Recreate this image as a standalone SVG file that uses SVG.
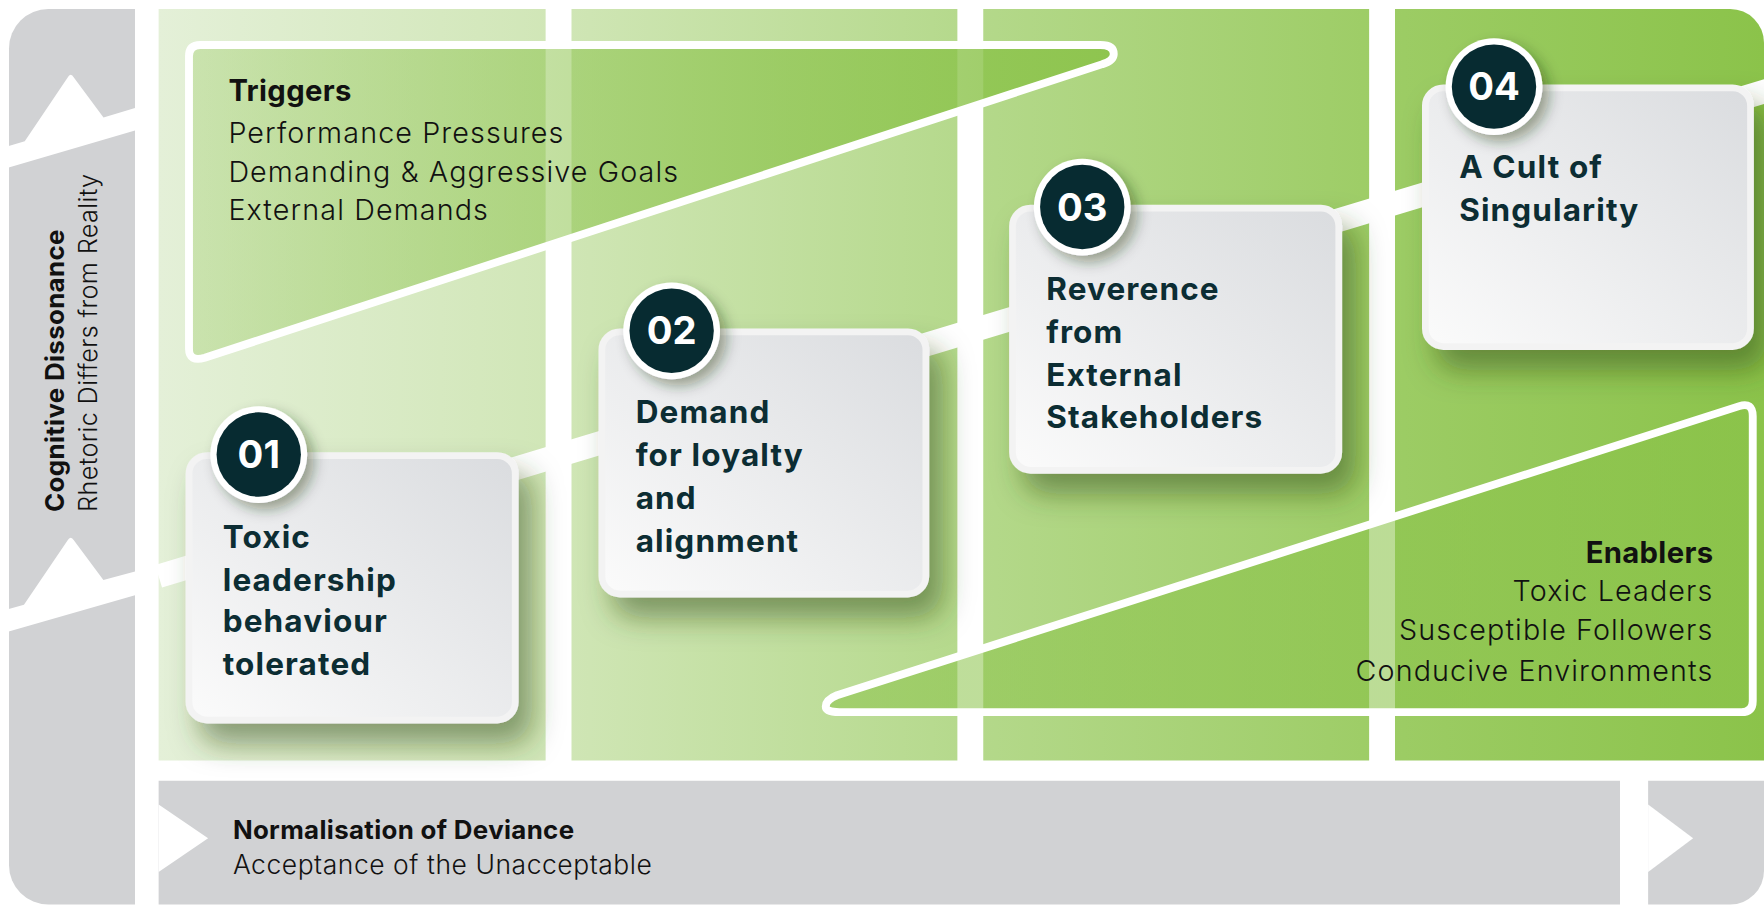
<svg xmlns="http://www.w3.org/2000/svg" width="1764" height="905" viewBox="0 0 1764 905">
<defs>
<linearGradient id="bg" gradientUnits="userSpaceOnUse" x1="141" y1="0" x2="1568" y2="0">
<stop offset="0" stop-color="#e4f0d8"/>
<stop offset="0.25" stop-color="#d0e6b6"/>
<stop offset="0.5" stop-color="#b5d98c"/>
<stop offset="0.75" stop-color="#9ecd67"/>
<stop offset="1" stop-color="#8bc34a"/>
</linearGradient>
<linearGradient id="trig" gradientUnits="userSpaceOnUse" x1="168" y1="0" x2="990" y2="0">
<stop offset="0" stop-color="#8bc34a" stop-opacity="0.28"/>
<stop offset="1" stop-color="#8bc34a" stop-opacity="0.9"/>
</linearGradient>
<linearGradient id="enab" gradientUnits="userSpaceOnUse" x1="735" y1="0" x2="1558" y2="0">
<stop offset="0" stop-color="#8bc34a" stop-opacity="0.55"/>
<stop offset="1" stop-color="#8bc34a" stop-opacity="0.6"/>
</linearGradient>
<linearGradient id="card" x1="1" y1="0" x2="0" y2="1">
<stop offset="0" stop-color="#dadcdf"/>
<stop offset="1" stop-color="#fbfbfb"/>
</linearGradient>
<filter id="sh" x="-20%" y="-20%" width="160%" height="170%">
<feDropShadow dx="12" dy="18" stdDeviation="13" flood-color="#2e4a0e" flood-opacity="0.5"/>
</filter>
<filter id="csh" x="-30%" y="-30%" width="180%" height="180%">
<feDropShadow dx="6" dy="6" stdDeviation="6" flood-color="#1f3308" flood-opacity="0.4"/>
</filter>
</defs>
<style>
.gray{fill:#d1d2d4}
.wht{fill:#ffffff}
.card{fill:url(#card);stroke:#f3f3f3;stroke-width:6}
.ring{fill:#ffffff}
.dot{fill:#072b31}
.num{font-family:Inter,"Liberation Sans",sans-serif;font-weight:700;font-size:34px;fill:#ffffff;text-anchor:middle}
.ct{font-family:Inter,"Liberation Sans",sans-serif;font-weight:700;font-size:28px;letter-spacing:1px;fill:#0c2d33}
.hb{font-family:Inter,"Liberation Sans",sans-serif;font-weight:700;font-size:26px;letter-spacing:0.3px;fill:#111111}
.hr{font-family:Inter,"Liberation Sans",sans-serif;font-weight:300;font-size:25.5px;letter-spacing:1px;fill:#111111}
.sb{font-family:Inter,"Liberation Sans",sans-serif;font-weight:700;font-size:23px;letter-spacing:0.3px;fill:#111111}
.sr{font-family:Inter,"Liberation Sans",sans-serif;font-weight:300;font-size:23.5px;letter-spacing:0.5px;fill:#111111}
.vr{font-family:Inter,"Liberation Sans",sans-serif;font-weight:300;font-size:22.5px;letter-spacing:0.3px;fill:#111111}
</style>
<rect width="1764" height="905" fill="#ffffff"/>
<g transform="scale(1.125)">
<g id="background">
<rect x="141" y="8" width="344" height="668" fill="url(#bg)"/>
<rect x="508" y="8" width="343" height="668" fill="url(#bg)"/>
<rect x="874" y="8" width="343" height="668" fill="url(#bg)"/>
<path d="M1240,8 H1538 A30,30 0 0 1 1568,38 V676 H1240 Z" fill="url(#bg)"/>
</g>
<g id="left-panel">
<path class="gray" d="M120,8 H43 A35,35 0 0 0 8,43 V769 A35,35 0 0 0 43,804 H120 Z"/>
<path class="wht" d="M7,130 L22,125.5 L60,69 Q62.8,64 65.8,69 L92,104.4 L120,96 L120,116 L7,149 Z"/>
<path class="wht" d="M7,541.6 L21.3,537.5 L60,480.4 Q62.8,475.4 65.8,480.4 L91.9,515.6 L120,508 L120,529 L7,561.5 Z"/>
<text class="sb" transform="translate(57,455) rotate(-90)">Cognitive Dissonance</text>
<text class="vr" transform="translate(86,455) rotate(-90)">Rhetoric Differs from Reality</text>
</g>
<g id="bottom-bar">
<path class="gray" d="M141,694 H1440 V804 H141 Z"/>
<path class="gray" d="M1465,694 H1568 V774 A30,30 0 0 1 1538,804 H1465 Z"/>
<polygon class="wht" points="141,715 185,745 141,775"/>
<polygon class="wht" points="1465,715 1505,745 1465,775"/>
<text class="sb" x="207" y="746">Normalisation of Deviance</text>
<text class="sr" x="207" y="777">Acceptance of the Unacceptable</text>
</g>
<g id="triggers">
<path d="M178,40 H978 Q990,40 990,48 Q990,54 980,57 L182,318 Q168,322 168,310 V50 Q168,40 178,40 Z" fill="url(#trig)" stroke="#ffffff" stroke-width="7" stroke-linejoin="round"/>
<text class="hb" x="203" y="90">Triggers</text>
<text class="hr" x="203" y="127">Performance Pressures</text>
<text class="hr" x="203" y="161.5">Demanding &amp; Aggressive Goals</text>
<text class="hr" x="203" y="195.5">External Demands</text>
</g>
<g id="enablers">
<path d="M746,633 H1548 Q1558,633 1558,623 V370 Q1558,357 1546,361 L744,618 Q734,622 734,628 Q734,633 746,633 Z" fill="url(#enab)" stroke="#ffffff" stroke-width="7" stroke-linejoin="round"/>
<text class="hb" x="1523" y="500" text-anchor="end">Enablers</text>
<text class="hr" x="1523" y="534" text-anchor="end">Toxic Leaders</text>
<text class="hr" x="1523" y="569" text-anchor="end">Susceptible Followers</text>
<text class="hr" x="1523" y="605" text-anchor="end">Conducive Environments</text>
</g>
<g id="connectors">
<line x1="141" y1="512.2" x2="1580" y2="77.9" stroke="#ffffff" stroke-width="21"/>
</g>
<g id="node-01">
<rect class="card" x="168" y="405" width="290" height="235" rx="16" filter="url(#sh)"/>
<circle class="ring" cx="230" cy="404" r="43" filter="url(#csh)"/>
<circle class="dot" cx="230" cy="404" r="37.5"/>
<text class="num" x="230" y="416">01</text>
<text class="ct" x="198" y="487">Toxic</text>
<text class="ct" x="198" y="525">leadership</text>
<text class="ct" x="198" y="562">behaviour</text>
<text class="ct" x="198" y="600">tolerated</text>
</g>
<g id="node-02">
<rect class="card" x="535" y="295" width="288" height="233" rx="16" filter="url(#sh)"/>
<circle class="ring" cx="597" cy="294" r="43" filter="url(#csh)"/>
<circle class="dot" cx="597" cy="294" r="37.5"/>
<text class="num" x="597" y="306">02</text>
<text class="ct" x="565" y="376">Demand</text>
<text class="ct" x="565" y="414">for loyalty</text>
<text class="ct" x="565" y="452">and</text>
<text class="ct" x="565" y="491">alignment</text>
</g>
<g id="node-03">
<rect class="card" x="900" y="185" width="290" height="233" rx="16" filter="url(#sh)"/>
<circle class="ring" cx="962" cy="184" r="43" filter="url(#csh)"/>
<circle class="dot" cx="962" cy="184" r="37.5"/>
<text class="num" x="962" y="196">03</text>
<text class="ct" x="930" y="267">Reverence</text>
<text class="ct" x="930" y="305">from</text>
<text class="ct" x="930" y="343">External</text>
<text class="ct" x="930" y="380">Stakeholders</text>
</g>
<g id="node-04">
<rect class="card" x="1267" y="78" width="289" height="230" rx="16" filter="url(#sh)"/>
<circle class="ring" cx="1328" cy="77" r="43" filter="url(#csh)"/>
<circle class="dot" cx="1328" cy="77" r="37.5"/>
<text class="num" x="1328" y="89">04</text>
<text class="ct" x="1297" y="158">A Cult of</text>
<text class="ct" x="1297" y="196">Singularity</text>
</g>
</g>
</svg>
